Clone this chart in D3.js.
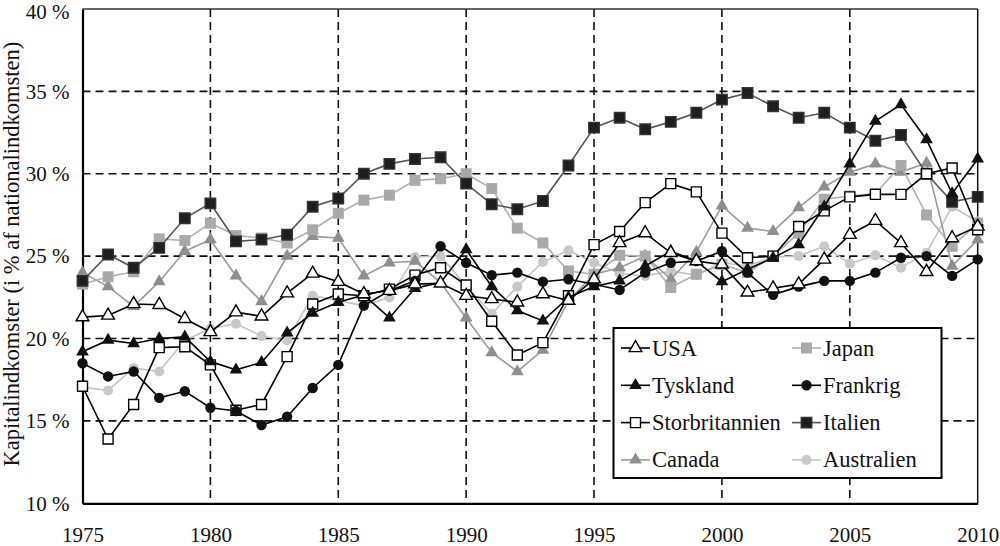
<!DOCTYPE html>
<html><head><meta charset="utf-8">
<script src="https://cdn.jsdelivr.net/npm/d3@7"></script>
<style>body{margin:0;background:#fff}svg{display:block}
text{font-family:"Liberation Serif","Times New Roman",Times,"Noto Serif","DejaVu Serif",serif;}</style>
</head><body><svg id="c" width="1000" height="546"></svg>
<script>
const years = d3.range(1975, 2011);
const yTicks = [10, 15, 20, 25, 30, 35, 40];
const xTicks = [1975, 1980, 1985, 1990, 1995, 2000, 2005, 2010];

const usa = [21.3,21.4,22.1,22.05,21.2,20.4,21.6,21.35,22.75,23.95,23.45,22.7,22.9,23.3,23.35,22.6,22.4,22.2,22.7,22.3,23.6,25.8,26.4,25.2,24.7,24.5,22.8,23.05,23.3,24.8,26.3,27.15,25.8,24.05,26.1,26.8];
const japan = [23.3,23.75,24.05,26.05,25.95,27.0,26.25,26.1,25.8,26.6,27.6,28.4,28.7,29.6,29.7,30.0,29.1,26.7,25.8,24.1,23.9,25.05,25.0,23.1,23.9,24.5,24.0,25.0,26.4,28.45,28.65,28.8,30.5,27.5,25.6,27.0];
const tyskland = [19.2,19.9,19.7,20.0,20.1,18.6,18.1,18.55,20.35,21.55,22.2,22.65,21.25,23.05,23.4,25.4,23.15,21.7,21.07,22.5,23.15,23.5,24.4,25.3,24.7,23.45,24.2,24.9,25.7,28.0,30.6,33.2,34.2,32.07,28.8,30.9];
const frankrig = [18.5,17.7,18.0,16.4,16.8,15.8,15.6,14.75,15.25,17.0,18.4,22.0,22.9,23.5,25.6,24.6,23.85,24.0,23.45,23.6,23.3,22.95,24.0,24.6,24.7,25.3,24.0,22.65,23.15,23.5,23.5,24.0,24.9,25.0,23.8,24.8];
const storbritannien = [17.1,13.9,16.0,19.45,19.5,18.4,15.65,16.0,18.9,22.1,22.7,22.6,23.0,23.85,24.3,23.25,21.05,19.0,19.75,22.6,25.7,26.5,28.25,29.4,28.9,26.4,24.9,25.0,26.8,27.75,28.6,28.75,28.75,30.0,30.35,26.6];
const italien = [23.5,25.1,24.3,25.5,27.3,28.2,25.9,26.0,26.3,28.0,28.5,30.0,30.6,30.9,31.0,29.4,28.15,27.85,28.35,30.5,32.8,33.4,32.7,33.15,33.7,34.5,34.9,34.1,33.4,33.7,32.8,32.0,32.35,30.0,28.3,28.6];
const canada = [24.0,23.15,21.95,23.45,25.3,26.0,23.8,22.25,25.0,26.2,26.1,23.8,24.6,24.7,23.4,21.25,19.15,18.0,19.3,22.3,23.9,24.3,25.0,23.6,25.25,28.05,26.7,26.5,27.95,29.2,30.1,30.6,30.1,30.65,24.4,26.0];
const australien = [17.05,16.85,18.2,18.0,19.9,20.6,20.9,20.15,19.9,22.6,22.3,22.0,22.5,24.95,25.0,23.2,21.5,23.15,24.65,25.35,24.6,23.95,23.8,24.1,23.85,24.6,24.4,24.95,25.0,25.6,24.55,25.05,24.3,25.2,28.0,27.1];

const series = [
  {name:"Australien", values:australien, line:"#c4c4c4", fill:"#c8c8c8", stroke:"none", sym:d3.symbolCircle, size:80},
  {name:"Canada", values:canada, line:"#9a9a9a", fill:"#8e8e8e", stroke:"none", sym:d3.symbolTriangle, size:70},
  {name:"Japan", values:japan, line:"#b0b0b0", fill:"#a9a9a9", stroke:"none", sym:d3.symbolSquare, size:121},
  {name:"Italien", values:italien, line:"#555555", fill:"#1e1e1e", stroke:"#333", sym:d3.symbolSquare, size:110},
  {name:"Storbritannien", values:storbritannien, line:"#000", fill:"#fff", stroke:"#000", sym:d3.symbolSquare, size:100},
  {name:"Frankrig", values:frankrig, line:"#000", fill:"#111", stroke:"none", sym:d3.symbolCircle, size:85},
  {name:"Tyskland", values:tyskland, line:"#000", fill:"#111", stroke:"none", sym:d3.symbolTriangle, size:70},
  {name:"USA", values:usa, line:"#000", fill:"#fff", stroke:"#000", sym:d3.symbolTriangle, size:70}
];
const legendOrder = ["USA","Japan","Tyskland","Frankrig","Storbritannien","Italien","Canada","Australien"];

const svg = d3.select("#c");
const L = 82.5, R = 977.7, T = 9, B = 503.3;
const x = d3.scaleLinear().domain([1975, 2010]).range([L, R]);
const y = d3.scaleLinear().domain([10, 40]).range([B, T]);

// grid
const g = svg.append("g");
g.selectAll(".hg").data(yTicks.filter(d => d > 10 && d < 40)).join("line")
  .attr("x1", L).attr("x2", R).attr("y1", d => y(d)).attr("y2", d => y(d))
  .attr("stroke", "#111").attr("stroke-width", 1.6).attr("stroke-dasharray", "8,5");
g.selectAll(".vg").data(xTicks.filter(d => d > 1975 && d < 2010)).join("line")
  .attr("y1", T).attr("y2", B).attr("x1", d => x(d)).attr("x2", d => x(d))
  .attr("stroke", "#111").attr("stroke-width", 1.6).attr("stroke-dasharray", "8,5");
// frame
g.append("line").attr("x1", L).attr("x2", R).attr("y1", T).attr("y2", T).attr("stroke", "#333").attr("stroke-width", 1.5);
g.append("line").attr("x1", R).attr("x2", R).attr("y1", T).attr("y2", B).attr("stroke", "#111").attr("stroke-width", 1.5);

// axes
const yAxis = d3.axisLeft(y).tickValues(yTicks).tickSize(0).tickPadding(13).tickFormat(d => d + " %");
const ya = svg.append("g").attr("transform", `translate(${L},0)`).call(yAxis);
ya.select(".domain").attr("stroke", "#000").attr("stroke-width", 2.2);
ya.selectAll("text").attr("font-family", null).attr("font-size", 21).attr("fill", "#111")
  .attr("dy", d => d === 40 ? "0.45em" : "0.32em");
const xAxis = d3.axisBottom(x).tickValues(xTicks).tickSize(0).tickPadding(24).tickFormat(d3.format("d"));
const xa = svg.append("g").attr("transform", `translate(0,${B})`).call(xAxis);
xa.select(".domain").attr("stroke", "#000").attr("stroke-width", 2.2);
xa.selectAll("text").attr("font-family", null).attr("font-size", 21).attr("fill", "#111");
svg.selectAll("g").attr("font-family", null);

svg.append("text").attr("transform", `translate(19,${(T+B)/2 - 2}) rotate(-90)`)
  .attr("text-anchor", "middle").attr("font-size", 22.5).attr("fill", "#111")
  .text("Kapitalindkomster (i % af nationalindkomsten)");

// series
const line = d3.line().x((d, i) => x(years[i])).y(d => y(d));
series.forEach(s => {
  const sg = svg.append("g");
  sg.append("path").attr("d", line(s.values)).attr("fill", "none").attr("stroke", s.line).attr("stroke-width", 1.6);
  sg.selectAll("path.m").data(s.values).join("path").attr("class", "m")
    .attr("transform", (d, i) => `translate(${x(years[i])},${y(d)})`)
    .attr("d", d3.symbol(s.sym, s.size)())
    .attr("fill", s.fill).attr("stroke", s.stroke).attr("stroke-width", 1.4);
});

// legend
const lg = svg.append("g");
lg.append("rect").attr("x", 613.5).attr("y", 328).attr("width", 328).attr("height", 150)
  .attr("fill", "#fff").attr("stroke", "#000").attr("stroke-width", 2);
const byName = Object.fromEntries(series.map(s => [s.name, s]));
legendOrder.forEach((n, i) => {
  const s = byName[n];
  const col = i % 2, row = Math.floor(i / 2);
  const lx = col === 0 ? 621 : 792;
  const ly = 348 + row * 37.3;
  lg.append("line").attr("x1", lx).attr("x2", lx + 29).attr("y1", ly).attr("y2", ly).attr("stroke", s.line).attr("stroke-width", 1.6);
  lg.append("path").attr("transform", `translate(${lx + 14.5},${ly})`).attr("d", d3.symbol(s.sym, s.size)())
    .attr("fill", s.fill).attr("stroke", s.stroke).attr("stroke-width", 1.4);
  lg.append("text").attr("x", lx + 31).attr("y", ly + 7.5).attr("font-size", 22.5)
    .attr("fill", "#111").text(n);
});
</script></body></html>
